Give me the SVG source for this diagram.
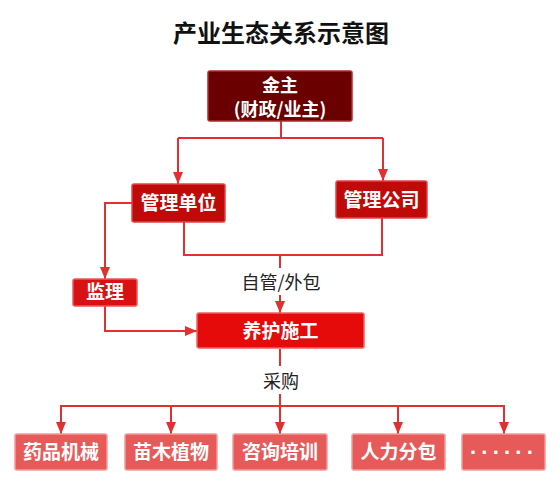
<svg xmlns="http://www.w3.org/2000/svg" width="560" height="486" viewBox="0 0 560 486">
<defs>
<marker id="arr" viewBox="0 0 12 10" refX="12" refY="5" markerWidth="12" markerHeight="10" markerUnits="userSpaceOnUse" orient="auto">
<path d="M0,0 L12,5 L0,10 z" fill="#e0302f"/>
</marker>
</defs>
<style>
.ln{fill:none;stroke:#e0302f;stroke-width:2}
.t{font-family:"Noto Sans CJK SC","Noto Sans",sans-serif;font-weight:bold;font-size:19px;fill:#fff;text-anchor:middle}
.lb{font-family:"Noto Sans CJK SC","Noto Sans",sans-serif;font-size:18px;fill:#222;text-anchor:middle}
.leaf{fill:#e65a5a;stroke:#f29a9a;stroke-width:1.5}
</style>
<rect width="560" height="486" fill="#fff"/>
<text x="281" y="42" text-anchor="middle" style="font-family:'Noto Sans CJK SC',sans-serif;font-weight:bold;font-size:24px;fill:#111">产业生态关系示意图</text>

<g id="connectors">
<polyline class="ln" points="281,121 281,138"/>
<polyline class="ln" points="178,138 383,138"/>
<polyline class="ln" points="178,138 178,184" marker-end="url(#arr)"/>
<polyline class="ln" points="383,138 383,181" marker-end="url(#arr)"/>
<polyline class="ln" points="132,203 105,203 105,279" marker-end="url(#arr)"/>
<polyline class="ln" points="184,222 184,255 382,255 382,218"/>
<polyline class="ln" points="280,255 280,268"/>
<polyline class="ln" points="280,295 280,313" marker-end="url(#arr)"/>
<polyline class="ln" points="105,306 105,331 197,331" marker-end="url(#arr)"/>
<polyline class="ln" points="280,349 280,366"/>
<polyline class="ln" points="280,394 280,406"/>
<polyline class="ln" points="61,406 504,406"/>
<polyline class="ln" points="61,405 61,434" marker-end="url(#arr)"/>
<polyline class="ln" points="171,406 171,434" marker-end="url(#arr)"/>
<polyline class="ln" points="280,406 280,434" marker-end="url(#arr)"/>
<polyline class="ln" points="398,406 398,434" marker-end="url(#arr)"/>
<polyline class="ln" points="504,405 504,434" marker-end="url(#arr)"/>
<text class="lb" x="281" y="289">自管/外包</text>
<text class="lb" x="281" y="388">采购</text>
</g>

<g id="jinzhu">
<rect x="208" y="71" width="144" height="50" rx="2" fill="#6a0000" stroke="#b02a2a" stroke-width="1.5"/>
<text class="t" x="280" y="92" style="font-size:18px">金主</text>
<text class="t" x="280" y="116" style="font-size:18px">(财政/业主)</text>
</g>
<g id="guanlidanwei">
<rect x="132" y="184" width="93" height="38" rx="2" fill="#c00a0a" stroke="#e04545" stroke-width="1.5"/>
<text class="t" x="178.5" y="210">管理单位</text>
</g>
<g id="guanligongsi">
<rect x="336" y="181" width="91" height="37" rx="2" fill="#c00a0a" stroke="#e04545" stroke-width="1.5"/>
<text class="t" x="381.5" y="206.5">管理公司</text>
</g>
<g id="jianli">
<rect x="73" y="279" width="64" height="27" rx="2" fill="#d81212" stroke="#ec5a5a" stroke-width="1.5"/>
<text class="t" x="105" y="299">监理</text>
</g>
<g id="yanghu">
<rect x="197" y="313" width="167" height="35" rx="2" fill="#e60b0b" stroke="#f06060" stroke-width="1.5"/>
<text class="t" x="280.5" y="337.5">养护施工</text>
</g>
<g id="yaopin">
<rect class="leaf" x="15" y="434" width="92" height="36" rx="2"/>
<text class="t" x="61" y="459">药品机械</text>
</g>
<g id="miaomu">
<rect class="leaf" x="125" y="434" width="92" height="36" rx="2"/>
<text class="t" x="171" y="459">苗木植物</text>
</g>
<g id="zixun">
<rect class="leaf" x="233" y="434" width="94" height="36" rx="2"/>
<text class="t" x="280" y="459">咨询培训</text>
</g>
<g id="renli">
<rect class="leaf" x="352" y="434" width="93" height="36" rx="2"/>
<text class="t" x="398.5" y="459">人力分包</text>
</g>
<g id="more">
<rect class="leaf" x="462" y="434" width="83" height="36" rx="2"/>
<text x="504" y="460" text-anchor="middle" style="font-family:'Liberation Sans',sans-serif;font-weight:bold;font-size:22px;fill:#fff;letter-spacing:4px">······</text>
</g>
</svg>
